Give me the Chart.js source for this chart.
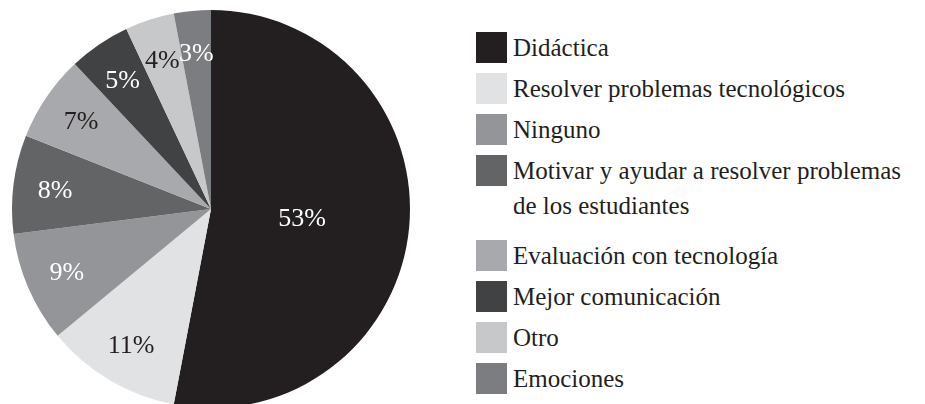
<!DOCTYPE html>
<html>
<head>
    <meta charset="UTF-8">
    <title>Uso de la tecnología</title>
    <script src="https://cdn.jsdelivr.net/npm/chart.js"></script>
    <style>
        html, body { margin: 0; padding: 0; background: #fff; overflow: hidden; }
        body { width: 925px; height: 404px; position: relative; color: #231f20; font-family: 'Liberation Serif', 'Times New Roman', serif; }
        #pieBox { position: absolute; left: 12px; top: 10px; width: 398px; height: 398px; }
        #legend { position: absolute; left: 476px; top: 30px; }
        .item { display: flex; align-items: flex-start; margin-bottom: 6px; }
        .item.multi { margin-bottom: 15px; }
        .swatch { width: 31px; height: 31px; margin-top: 2px; margin-right: 6px; flex: none; }
        .text { font-family: 'Liberation Serif', 'Times New Roman', serif; font-size: 25px; line-height: 35px; white-space: nowrap; }
    </style>
</head>
<body>
    <div id="pieBox"><canvas id="pie" width="398" height="398"></canvas></div>
    <div id="legend"></div>

    <script>
        const labels = [
            'Didáctica',
            'Resolver problemas tecnológicos',
            'Ninguno',
            ['Motivar y ayudar a resolver problemas', 'de los estudiantes'],
            'Evaluación con tecnología',
            'Mejor comunicación',
            'Otro',
            'Emociones'
        ];
        const percents = [53, 11, 9, 8, 7, 5, 4, 3];
        const colors = ['#231f20', '#e1e2e4', '#939598', '#636466', '#a7a9ac', '#414244', '#c7c8ca', '#7c7d80'];

        // light or dark text depending on the slice colour
        function textColorFor(hex) {
            const r = parseInt(hex.slice(1, 3), 16);
            const g = parseInt(hex.slice(3, 5), 16);
            const b = parseInt(hex.slice(5, 7), 16);
            return (r * 0.299 + g * 0.587 + b * 0.114) > 160 ? '#231f20' : '#ffffff';
        }

        // percentage written inside each slice
        const sliceLabels = {
            id: 'sliceLabels',
            afterDatasetsDraw(chart) {
                const ctx = chart.ctx;
                const meta = chart.getDatasetMeta(0);
                ctx.save();
                ctx.font = "26px 'Liberation Serif', 'Times New Roman', serif";
                ctx.textAlign = 'center';
                ctx.textBaseline = 'middle';
                meta.data.forEach((arc, i) => {
                    const p = arc.getProps(['x', 'y', 'startAngle', 'endAngle', 'outerRadius'], true);
                    const mid = (p.startAngle + p.endAngle) / 2;
                    const f = percents[i] > 50 ? 0.46 : 0.79;
                    const x = p.x + Math.cos(mid) * p.outerRadius * f;
                    const y = p.y + Math.sin(mid) * p.outerRadius * f;
                    ctx.fillStyle = textColorFor(colors[i]);
                    ctx.fillText(percents[i] + '%', x, y + 2);
                });
                ctx.restore();
            }
        };

        new Chart(document.getElementById('pie'), {
            type: 'pie',
            data: {
                labels: labels,
                datasets: [{
                    data: percents,
                    backgroundColor: colors,
                    borderWidth: 0
                }]
            },
            options: {
                responsive: false,
                animation: false,
                layout: { padding: 0 },
                plugins: {
                    legend: { display: false },
                    tooltip: { enabled: false }
                }
            },
            plugins: [sliceLabels]
        });

        // legend on the right
        const legendEl = document.getElementById('legend');
        labels.forEach((lab, i) => {
            const lines = Array.isArray(lab) ? lab : [lab];
            const item = document.createElement('div');
            item.className = 'item' + (lines.length > 1 ? ' multi' : '');
            item.innerHTML = '<div class="swatch" style="background:' + colors[i] + '"></div>' +
                '<div class="text">' + lines.join('<br>') + '</div>';
            legendEl.appendChild(item);
        });
    </script>
</body>
</html>
